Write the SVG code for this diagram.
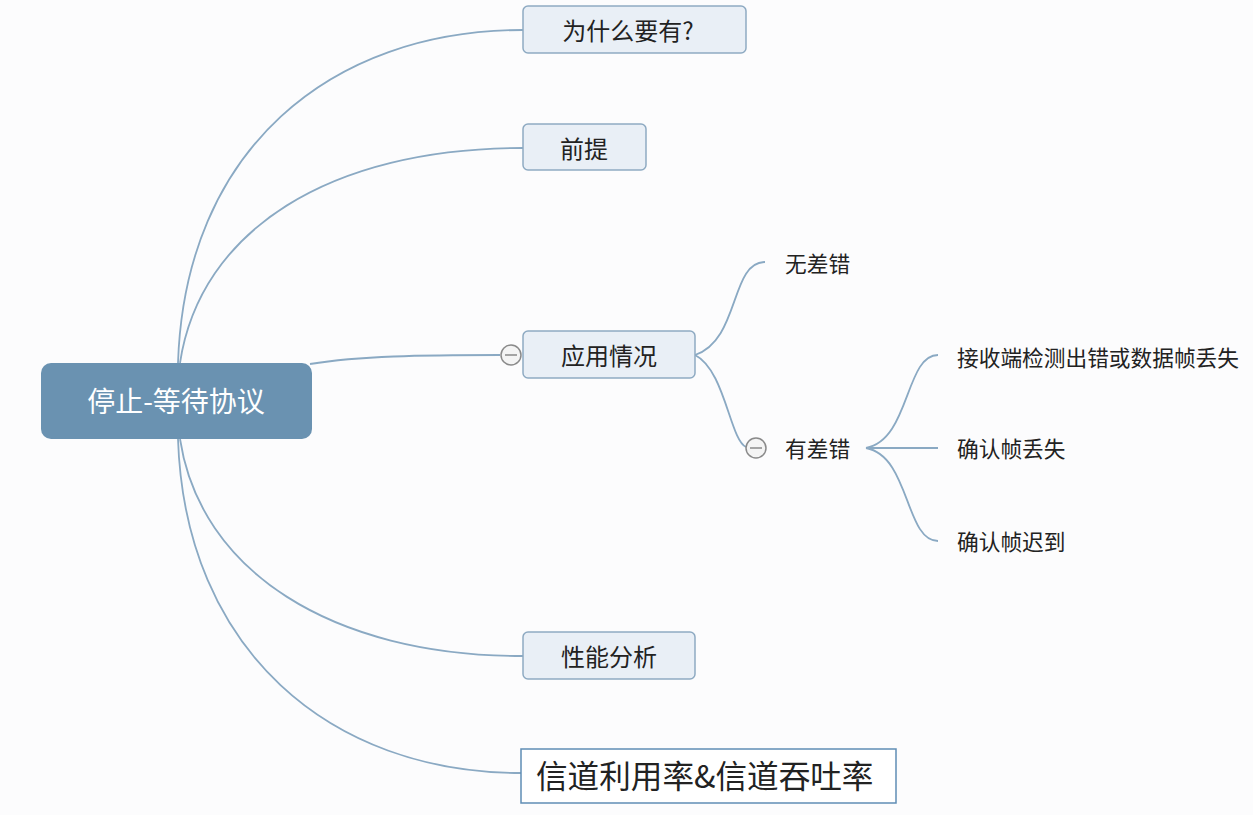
<svg xmlns="http://www.w3.org/2000/svg" width="1253" height="815" viewBox="0 0 1253 815">
<style>
.bg{fill:#fcfcfd}
.box{fill:#e9eff6;stroke:#8eaac2;stroke-width:1.5}
.t{font-family:"Noto Sans CJK SC","Noto Sans",sans-serif;fill:#222;dominant-baseline:central;font-weight:400}
.c{fill:none;stroke:#8aa9c3;stroke-width:1.8}
.tog{fill:#f4f4f4;stroke:#8a8a8a;stroke-width:1.5}
.togl{stroke:#8a8a8a;stroke-width:1.5}
</style>
<rect class="bg" x="0" y="0" width="1253" height="815"/>
<g id="connectors">
<path class="c" d="M178,363 C185,150 330,30 523,30"/>
<path class="c" d="M180,363 C200,230 330,148 523,148"/>
<path class="c" d="M310,364 C360,356 420,355 500,355"/>
<path class="c" d="M180,439 C200,570 330,656 523,656"/>
<path class="c" d="M178,439 C185,650 330,773 521,773"/>
<path class="c" d="M695,355 C740,340 730,262 765,262"/>
<path class="c" d="M695,355 C725,370 730,440 746,447"/>
<path class="c" d="M866,448 C910,440 905,355 938,355"/>
<path class="c" d="M866,448 L938,448"/>
<path class="c" d="M866,448 C910,456 905,541 938,541"/>
</g>
<g id="root">
<rect x="41" y="363" width="271" height="76" rx="10" fill="#6a92b1"/>
<text class="t" x="176" y="400" font-size="28" style="fill:#fff" text-anchor="middle">停止-等待协议</text>
</g>
<g id="n1">
<rect class="box" x="523" y="6" width="223" height="47" rx="5"/>
<text class="t" x="628" y="29" font-size="24" text-anchor="middle">为什么要有?</text>
</g>
<g id="n2">
<rect class="box" x="523" y="124" width="123" height="46" rx="5"/>
<text class="t" x="584" y="147" font-size="24" text-anchor="middle">前提</text>
</g>
<g id="n3">
<rect class="box" x="523" y="331" width="172" height="47" rx="5"/>
<text class="t" x="609" y="354" font-size="24" text-anchor="middle">应用情况</text>
<circle class="tog" cx="511" cy="355" r="10"/>
<line class="togl" x1="505" y1="355" x2="517" y2="355"/>
</g>
<g id="n4">
<rect class="box" x="523" y="632" width="172" height="47" rx="5"/>
<text class="t" x="609" y="655" font-size="24" text-anchor="middle">性能分析</text>
</g>
<g id="n5">
<rect x="521" y="749" width="375" height="54" fill="#fff" stroke="#5f8db5" stroke-width="1.5"/>
<text class="t" x="536" y="774" font-size="31.6">信道利用率&amp;信道吞吐率</text>
</g>
<g id="n6">
<text class="t" x="785" y="262" font-size="21.7">无差错</text>
</g>
<g id="n7">
<circle class="tog" cx="756" cy="448" r="10"/>
<line class="togl" x1="750" y1="448" x2="762" y2="448"/>
<text class="t" x="785" y="447" font-size="21.7">有差错</text>
</g>
<g id="n8">
<text class="t" x="957" y="356" font-size="21.7">接收端检测出错或数据帧丢失</text>
</g>
<g id="n9">
<text class="t" x="957" y="447" font-size="21.7">确认帧丢失</text>
</g>
<g id="n10">
<text class="t" x="957" y="540" font-size="21.7">确认帧迟到</text>
</g>
</svg>
